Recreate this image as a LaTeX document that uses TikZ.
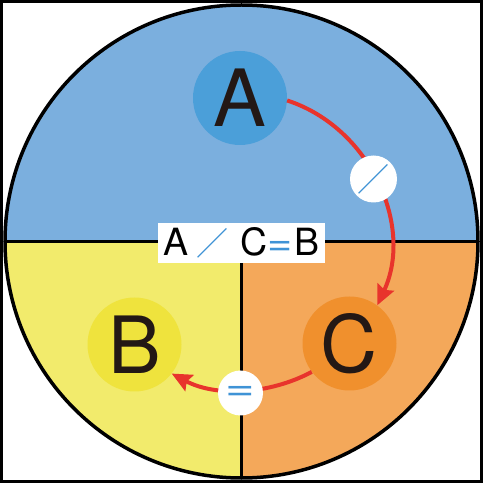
\documentclass[tikz,border=0pt]{standalone}
\usepackage{graphicx}
\usepackage{fontspec}
\setmainfont{TeX Gyre Heros}
\newfontfamily\cjkfont{Noto Sans CJK JP}
\usetikzlibrary{arrows.meta}
\definecolor{bgblue}{RGB}{123,175,222}
\definecolor{cirblue}{RGB}{75,159,217}
\definecolor{bgyellow}{RGB}{242,235,108}
\definecolor{ciryellow}{RGB}{239,227,61}
\definecolor{bgorange}{RGB}{244,168,90}
\definecolor{cirorange}{RGB}{240,144,45}
\definecolor{arrred}{RGB}{232,52,44}
\definecolor{markblue}{RGB}{63,147,214}
\definecolor{letter}{RGB}{35,24,21}
\tikzset{
  bigletter/.style={circle,inner sep=0pt,minimum size=94pt,text=letter,
    font=\fontsize{79}{79}\selectfont},
  markcircle/.style={circle,fill=white,inner sep=0pt,minimum size=47pt},
  conn/.style={draw=arrred,line width=4pt,-{Stealth[length=20pt,width=18pt,inset=3pt]}},
  divider/.style={line width=3pt,black},
  labelbox/.style={fill=white,inner sep=0pt,minimum width=167pt,minimum height=40pt,
    text=black,font=\fontsize{37.5}{37.5}\selectfont}
}
\begin{document}
\begin{tikzpicture}[x=1pt,y=1pt]
\useasboundingbox (0,0) rectangle (483,483);
\fill[white] (0,0) rectangle (483,483);
\coordinate (O) at (241.5,241.5);
\def\R{236.5}
\fill[bgblue] (O) -- ++(0:\R) arc (0:180:\R) -- cycle;
\fill[bgyellow] (O) -- ++(180:\R) arc (180:270:\R) -- cycle;
\fill[bgorange] (O) -- ++(270:\R) arc (270:360:\R) -- cycle;
\draw[divider] (O) ++(180:\R) -- ++(2*\R,0);
\draw[divider] (O) -- ++(0,-\R);
\draw[line width=3.5pt] (O) circle (\R);
\draw[line width=3pt] (1.5,1.5) rectangle (481.5,481.5);
\node[bigletter,fill=cirblue] (A) at (240,385) {A};
\node[bigletter,fill=ciryellow] (B) at (134.5,138.5) {B};
\node[bigletter,fill=cirorange] (C) at (349.5,139.5) {C};
\draw[conn] (A.-3) to[out=-18,in=65] (C.54);
\draw[conn] (C.-143) to[out=-152,in=-28,looseness=0.9] (B.-38);
\node[markcircle] (m1) at (373.5,304) {\fontsize{32}{32}\cjkfont\color{markblue}／};
\node[markcircle,minimum size=45pt] (m2) at (240.5,90) {\fontsize{37.5}{37.5}\selectfont\color{markblue}\scalebox{1.35}[1]{=}};
\node[labelbox] (L) at (241.5,240) {A\hspace{8pt}{\cjkfont\fontsize{32}{32}\selectfont\color{markblue}／}\hspace{12pt}C{\color{markblue}\scalebox{1.15}[1]{=}}\hspace{2pt}B};
\end{tikzpicture}
\end{document}
